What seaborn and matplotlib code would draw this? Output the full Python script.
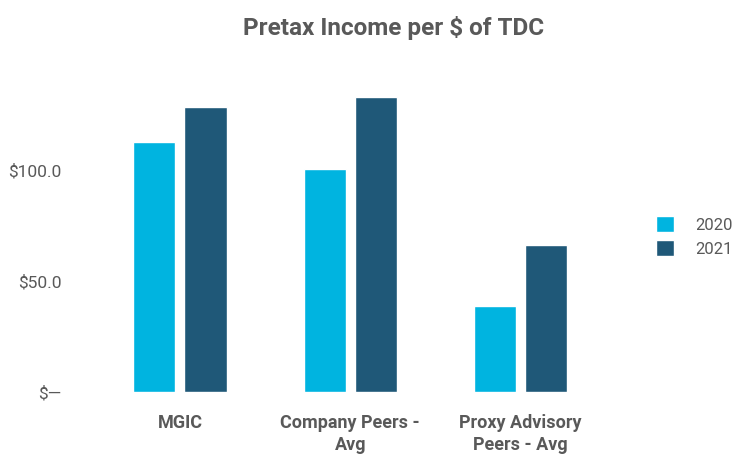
import pandas as pd
import matplotlib
matplotlib.use("Agg")
import matplotlib.pyplot as plt
import seaborn as sns

# Chart values
groups = ["MGIC", "Company Peers -\nAvg", "Proxy Advisory\nPeers - Avg"]
years = ["2020", "2021"]
values_2020 = [112.9, 100.5, 38.9]
values_2021 = [128.7, 133.0, 66.2]
ytick_vals = [0, 50, 100]
ytick_labels = ["$\u2014", "$50.0", "$100.0"]

df = pd.DataFrame({
    "Group": groups * 2,
    "Year": [years[0]] * 3 + [years[1]] * 3,
    "Value": values_2020 + values_2021,
})

sns.set_style("white")
plt.rcParams["font.family"] = ["Roboto", "DejaVu Sans"]
grey = "#595959"

fig = plt.figure(figsize=(7.35, 4.55), dpi=100)
ax = fig.add_axes([0.129, 0.1385, 0.695, 0.7305])

sns.barplot(data=df, x="Group", y="Value", hue="Year", order=groups,
            hue_order=years, palette=["#00B4E0", "#1F5878"],
            width=0.6, gap=0.176, ax=ax, saturation=1)

ax.set_xlim(-0.5, 2.5)
ax.set_ylim(0, 150)
ax.set_yticks(ytick_vals)
ax.set_yticklabels(ytick_labels, color=grey, fontsize=12.5)
ax.set_xlabel("")
ax.set_ylabel("")
for lbl in ax.get_xticklabels():
    lbl.set_fontweight("bold")
    lbl.set_color(grey)
    lbl.set_fontsize(13)
    lbl.set_linespacing(1.25)
ax.tick_params(axis="x", length=0, pad=16)
ax.tick_params(axis="y", length=0, pad=24)
sns.despine(ax=ax, left=True, bottom=True, top=True, right=True)

fig.suptitle("Pretax Income per $ of TDC", x=0.536, y=0.965, fontsize=17.5,
             fontweight="bold", color=grey)

leg = ax.legend(loc="center left", bbox_to_anchor=(1.075, 0.468), frameon=False,
                fontsize=12, handlelength=1.1, handleheight=1.1,
                handletextpad=1.25, labelspacing=0.45, borderpad=0.2)
for t in leg.get_texts():
    t.set_color(grey)

fig.savefig("out.png", dpi=100)
